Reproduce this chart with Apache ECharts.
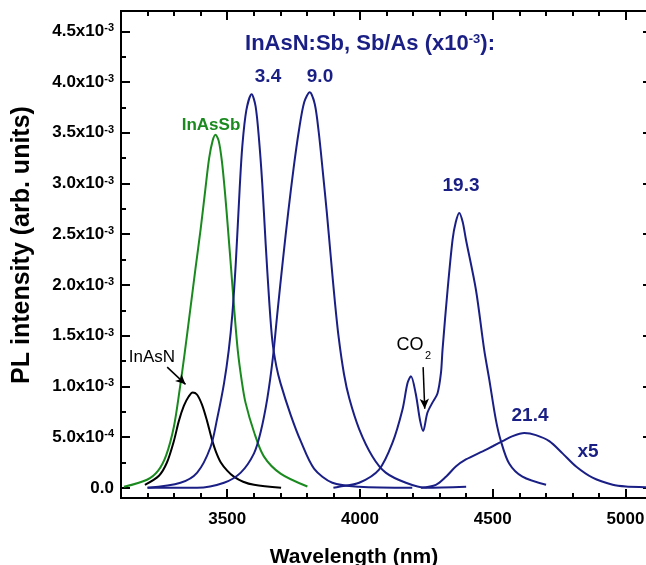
<!DOCTYPE html>
<html>
<head>
<meta charset="utf-8">
<script src="https://cdn.jsdelivr.net/npm/echarts@6/dist/echarts.min.js"></script>
<style>
html, body { margin:0; padding:0; overflow:hidden; background:#fff; }
#chart { width:652px; height:565px; }
</style>
</head>
<body>
<div id="chart"></div>
<script>
// PL spectra, wavelength in nm, intensity in arb. units
var wlInAsN = [3190, 3243, 3273, 3299, 3318, 3337, 3355, 3370, 3386, 3405, 3424, 3441, 3457, 3476, 3500, 3525, 3560, 3601, 3703];
var plInAsN = [0.03e-3, 0.12e-3, 0.25e-3, 0.46e-3, 0.66e-3, 0.81e-3, 0.90e-3, 0.94e-3, 0.92e-3, 0.82e-3, 0.66e-3, 0.49e-3, 0.36e-3, 0.25e-3, 0.17e-3, 0.11e-3, 0.06e-3, 0.03e-3, 0];

var wlInAsSb = [3111, 3198, 3240, 3270, 3299, 3320, 3340, 3360, 3380, 3400, 3418, 3432, 3445, 3456, 3468, 3480, 3492, 3503, 3515, 3527, 3540, 3555, 3569, 3601, 3638, 3701, 3802];
var plInAsSb = [0.01e-3, 0.08e-3, 0.17e-3, 0.32e-3, 0.60e-3, 0.95e-3, 1.33e-3, 1.74e-3, 2.15e-3, 2.55e-3, 2.95e-3, 3.25e-3, 3.42e-3, 3.48e-3, 3.42e-3, 3.22e-3, 2.90e-3, 2.55e-3, 2.15e-3, 1.74e-3, 1.35e-3, 1.05e-3, 0.84e-3, 0.55e-3, 0.31e-3, 0.14e-3, 0.013e-3];

var wlSb34 = [3200, 3324, 3387, 3437, 3462, 3488, 3506, 3519, 3532, 3547, 3557, 3572, 3592, 3607, 3620, 3632, 3645, 3658, 3670, 3685, 3701, 3739, 3777, 3827, 3896, 3997, 4197];
var plSb34 = [0, 0.05e-3, 0.15e-3, 0.40e-3, 0.68e-3, 1.03e-3, 1.36e-3, 1.70e-3, 2.20e-3, 2.95e-3, 3.37e-3, 3.72e-3, 3.88e-3, 3.76e-3, 3.43e-3, 3.00e-3, 2.40e-3, 1.85e-3, 1.45e-3, 1.20e-3, 1.03e-3, 0.72e-3, 0.46e-3, 0.19e-3, 0.05e-3, 0.01e-3, 0];

var wlSb90 = [3200, 3387, 3488, 3551, 3601, 3626, 3651, 3672, 3690, 3710, 3730, 3750, 3770, 3790, 3811, 3830, 3845, 3860, 3875, 3890, 3905, 3920, 3940, 3960, 3997, 4047, 4097, 4173, 4248, 4400];
var plSb90 = [0, 0, 0.05e-3, 0.15e-3, 0.34e-3, 0.55e-3, 0.88e-3, 1.28e-3, 1.75e-3, 2.25e-3, 2.72e-3, 3.15e-3, 3.52e-3, 3.80e-3, 3.90e-3, 3.78e-3, 3.50e-3, 3.12e-3, 2.72e-3, 2.28e-3, 1.85e-3, 1.48e-3, 1.12e-3, 0.88e-3, 0.58e-3, 0.31e-3, 0.15e-3, 0.05e-3, 0, 0.01e-3];

var wlSb193 = [3900, 3921, 3997, 4072, 4122, 4160, 4179, 4192, 4210, 4226, 4238, 4254, 4273, 4292, 4305, 4311, 4330, 4349, 4361, 4374, 4387, 4399, 4437, 4468, 4487, 4512, 4531, 4562, 4612, 4701];
var plSb193 = [0, 0.01e-3, 0.05e-3, 0.18e-3, 0.44e-3, 0.77e-3, 1.03e-3, 1.10e-3, 0.93e-3, 0.67e-3, 0.56e-3, 0.74e-3, 0.84e-3, 0.93e-3, 1.13e-3, 1.36e-3, 1.95e-3, 2.45e-3, 2.62e-3, 2.71e-3, 2.62e-3, 2.45e-3, 1.95e-3, 1.36e-3, 1.07e-3, 0.67e-3, 0.46e-3, 0.24e-3, 0.11e-3, 0.03e-3];

// 21.4 sample, already multiplied x5
var wlSb214 = [4230, 4286, 4324, 4361, 4399, 4462, 4500, 4537, 4575, 4619, 4663, 4713, 4763, 4814, 4876, 4952, 5002, 5075, 5100];
var plSb214 = [0, 0.03e-3, 0.11e-3, 0.21e-3, 0.28e-3, 0.36e-3, 0.41e-3, 0.46e-3, 0.51e-3, 0.54e-3, 0.52e-3, 0.46e-3, 0.34e-3, 0.21e-3, 0.10e-3, 0.03e-3, 0.013e-3, 0.007e-3, 0.005e-3];

// annotation arrows [from, to]
var arrowInAsN = [[3274, 1.19e-3], [3343, 1.02e-3]];
var arrowCO2 = [[4238, 1.19e-3], [4244, 0.78e-3]];

// ticks
var xMajor = [3500, 4000, 4500, 5000];
var xMinor = [3200, 3300, 3400, 3600, 3700, 3800, 3900, 4100, 4200, 4300, 4400, 4600, 4700, 4800, 4900];
var yMajor = [0, 0.5e-3, 1.0e-3, 1.5e-3, 2.0e-3, 2.5e-3, 3.0e-3, 3.5e-3, 4.0e-3, 4.5e-3];
var yMinor = [0.25e-3, 0.75e-3, 1.25e-3, 1.75e-3, 2.25e-3, 2.75e-3, 3.25e-3, 3.75e-3, 4.25e-3];

var NAVY = '#1a1f85';
var GREEN = '#1a8a1f';
var FONT = 'Liberation Sans, Arial, sans-serif';

function zip(xs, ys) {
	var out = [];
	for (var i = 0; i < xs.length; i++) out.push([xs[i], ys[i]]);
	return out;
}

function sciLabel(v) {
	if (Math.abs(v) < 1e-12) return '{m|0.0}';
	var e = Math.floor(Math.log10(v) + 1e-9);
	var m = v / Math.pow(10, e);
	return '{m|' + m.toFixed(1) + 'x10}{s|' + e + '}';
}

var lineAx = {show: true, onZero: false, lineStyle: {color: '#000', width: 2}};

function xAx(pos, vals, len, labels) {
	return {
		type: 'value', min: 3100, max: 5100, position: pos,
		axisLine: lineAx,
		axisTick: {show: true, inside: true, length: len, customValues: vals, lineStyle: {color: '#000', width: 2}},
		axisLabel: {show: labels, customValues: vals, margin: 13, formatter: function (v) { return String(v); },
			color: '#000', fontFamily: FONT, fontWeight: 'bold', fontSize: 17},
		splitLine: {show: false}
	};
}

function yAx(pos, vals, len, labels) {
	return {
		type: 'value', min: -0.1e-3, max: 4.7e-3, position: pos,
		axisLine: lineAx,
		axisTick: {show: true, inside: true, length: len, customValues: vals, lineStyle: {color: '#000', width: 2}},
		axisLabel: {
			show: labels, customValues: vals, margin: 7, formatter: sciLabel,
			rich: {
				m: {color: '#000', fontFamily: FONT, fontWeight: 'bold', fontSize: 17},
				s: {color: '#000', fontFamily: FONT, fontWeight: 'bold', fontSize: 11, verticalAlign: 'top'}
			}
		},
		splitLine: {show: false}
	};
}

function spectrum(name, xs, ys, color) {
	return {
		name: name, type: 'line', data: zip(xs, ys), showSymbol: false, smooth: 0.3,
		lineStyle: {color: color, width: 2}, itemStyle: {color: color}, z: 3
	};
}

function arrow(a) {
	return {
		silent: true, symbol: ['none', 'arrow'], symbolSize: [7, 10],
		lineStyle: {color: '#000', width: 1.5, type: 'solid'},
		label: {show: false},
		data: [[{coord: a[0]}, {coord: a[1]}]]
	};
}

function txt(x, y, text, color, size, bold) {
	return {
		type: 'text', x: x, y: y, z: 10,
		style: {text: text, fill: color, font: (bold ? 'bold ' : '') + size + 'px ' + FONT, textAlign: 'center', textVerticalAlign: 'middle'}
	};
}

var series = [
	spectrum('InAsSb', wlInAsSb, plInAsSb, GREEN),
	spectrum('InAsN', wlInAsN, plInAsN, '#000'),
	spectrum('3.4', wlSb34, plSb34, NAVY),
	spectrum('9.0', wlSb90, plSb90, NAVY),
	spectrum('19.3', wlSb193, plSb193, NAVY),
	spectrum('21.4', wlSb214, plSb214, NAVY)
];
series[1].markLine = arrow(arrowInAsN);
series[4].markLine = arrow(arrowCO2);

var option = {
	animation: false,
	backgroundColor: '#fff',
	grid: {left: 121, right: 0, top: 11, bottom: 67},
	xAxis: [xAx('bottom', xMajor, 9, true), xAx('bottom', xMinor, 5, false), xAx('top', xMajor, 9, false), xAx('top', xMinor, 5, false)],
	yAxis: [yAx('left', yMajor, 9, true), yAx('left', yMinor, 5, false), yAx('right', yMajor, 9, false), yAx('right', yMinor, 5, false)],
	series: series,
	graphic: [
		{
			type: 'text', x: 370, y: 44, z: 10,
			style: {
				text: '{t|InAsN:Sb, Sb/As (x10}{s|-3}{t|):}', textAlign: 'center', textVerticalAlign: 'middle',
				rich: {
					t: {fill: NAVY, font: 'bold 22px ' + FONT},
					s: {fill: NAVY, font: 'bold 13px ' + FONT, verticalAlign: 'top'}
				}
			}
		},
		txt(268, 77, '3.4', NAVY, 19, true),
		txt(320, 77, '9.0', NAVY, 19, true),
		txt(461, 186, '19.3', NAVY, 19, true),
		txt(530, 416, '21.4', NAVY, 19, true),
		txt(588, 452, 'x5', NAVY, 19, true),
		txt(211, 125, 'InAsSb', GREEN, 17, true),
		txt(152, 357, 'InAsN', '#000', 17, false),
		txt(410, 345, 'CO', '#000', 18, false),
		txt(428, 356, '2', '#000', 11, false),
		txt(354, 557, 'Wavelength (nm)', '#000', 21, true),
		{
			type: 'text', x: 22, y: 245, rotation: Math.PI / 2, z: 10,
			style: {text: 'PL intensity (arb. units)', fill: '#000', font: 'bold 25px ' + FONT, textAlign: 'center', textVerticalAlign: 'middle'}
		}
	]
};

var chart = echarts.init(document.getElementById('chart'));
chart.setOption(option);
</script>
</body>
</html>
